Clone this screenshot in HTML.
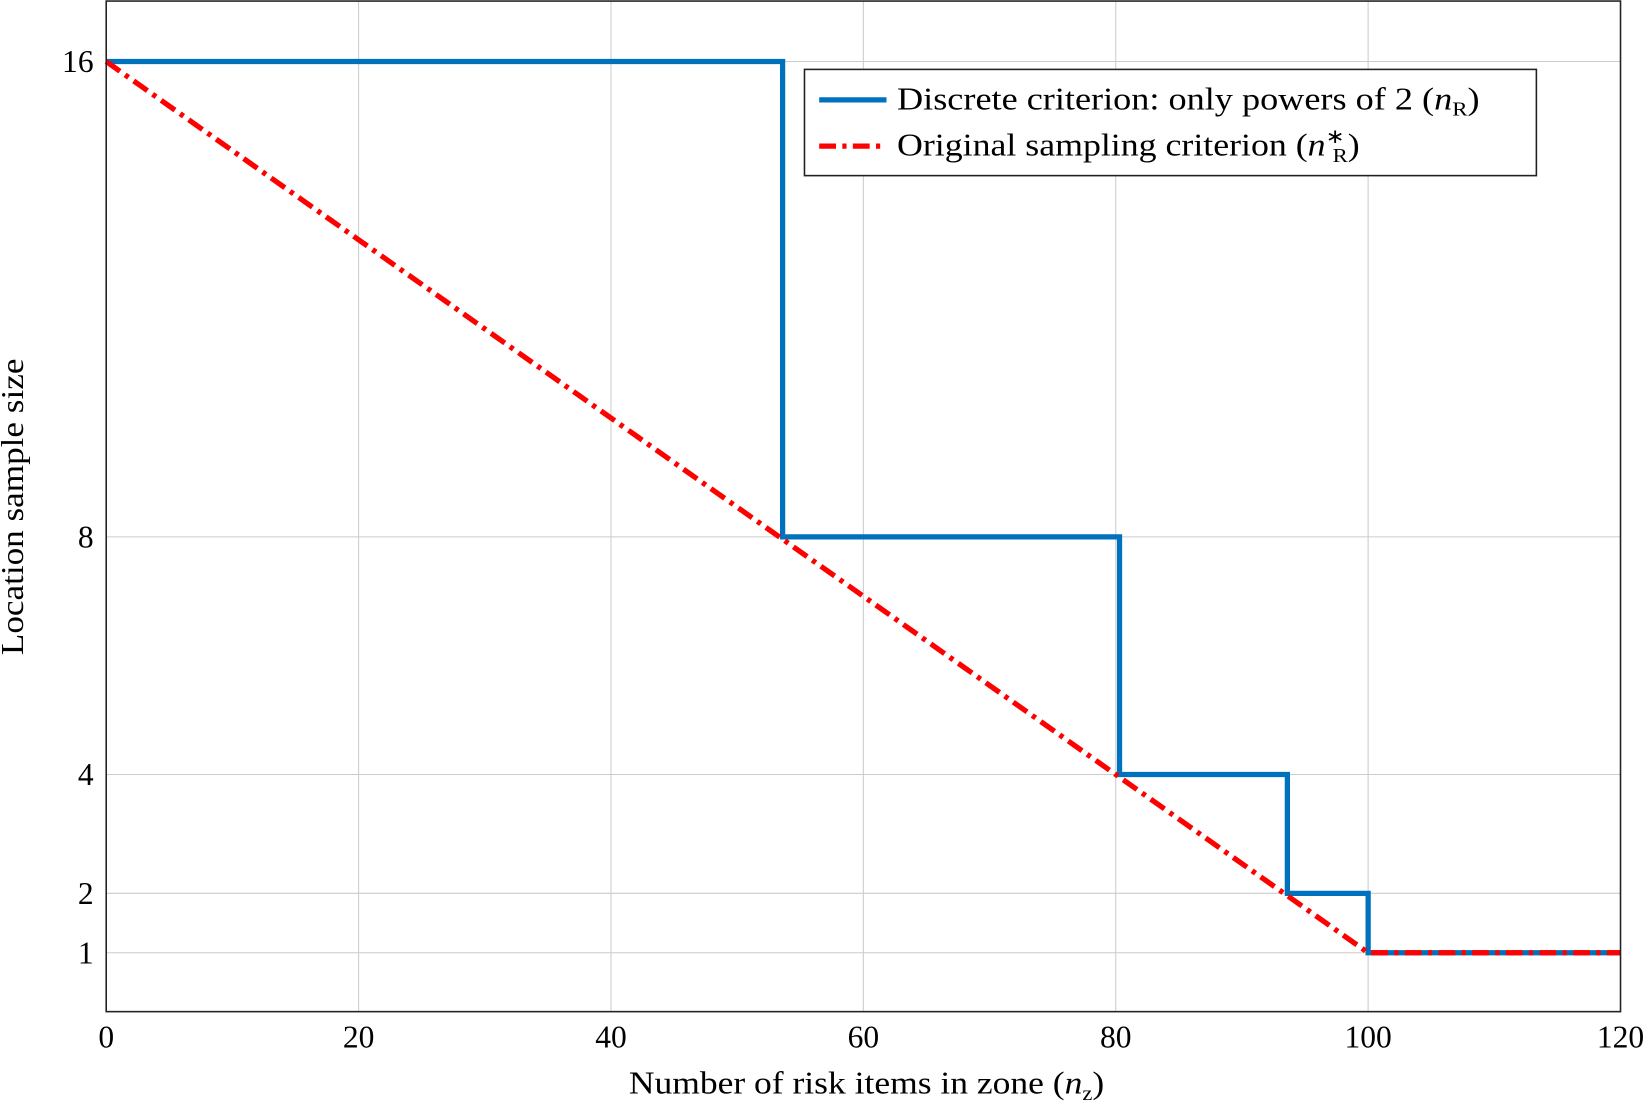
<!DOCTYPE html>
<html><head><meta charset="utf-8"><style>
body{margin:0;background:#fff}
text{font-family:"Liberation Serif",serif;fill:#000}
</style></head><body>
<svg width="1649" height="1103" xmlns="http://www.w3.org/2000/svg">
<g transform="scale(1.0516)">
<g id="grid"></g>
<g id="axes"></g>
<g id="series"></g>
<rect x="101" y="1" width="1440" height="961" fill="none" stroke="#222" stroke-width="1.5"/>
<text x="598" y="1040" font-size="30" textLength="452" lengthAdjust="spacingAndGlyphs">Number of risk items in zone (<tspan font-style="italic">n</tspan><tspan font-size="19" dy="6">z</tspan><tspan dy="-6">)</tspan></text>
<text transform="translate(22,482) rotate(-90)" font-size="30" text-anchor="middle" textLength="282" lengthAdjust="spacingAndGlyphs">Location sample size</text>
<g>
<rect x="765" y="66" width="696" height="101" fill="#fff" stroke="#222" stroke-width="1.5"/>
<line x1="779" y1="95" x2="843" y2="95" stroke="#0072bd" stroke-width="5"/>
<text x="853" y="104" font-size="30" textLength="554" lengthAdjust="spacingAndGlyphs">Discrete criterion: only powers of 2 (<tspan font-style="italic">n</tspan><tspan font-size="19" dy="6">R</tspan><tspan dy="-6">)</tspan></text>
<line x1="779" y1="139" x2="843" y2="139" stroke="#ff0000" stroke-width="5" stroke-dasharray="16,6,4,6"/>
<text x="853" y="148" font-size="30" textLength="440" lengthAdjust="spacingAndGlyphs">Original sampling criterion (<tspan font-style="italic">n</tspan><tspan font-size="19" dy="-12">∗</tspan><tspan font-size="19" dx="-10" dy="18">R</tspan><tspan dy="-6">)</tspan></text>
</g>
</g>
</svg>
<script>
const xTicks=[0,20,40,60,80,100,120];
const yTicks=[1,2,4,8,16];
const discreteX=[0,53.6,53.6,80.3,80.3,93.6,93.6,100,100,120];
const discreteY=[16,16,8,8,4,4,2,2,1,1];
const originalX=[0,100,120];
const originalY=[16,1,1];
const NS="http://www.w3.org/2000/svg";
const sx=v=>101+v*12;
const sy=v=>962.5-v*56.5;
function mk(tag,attrs,parent){const e=document.createElementNS(NS,tag);for(const k in attrs)e.setAttribute(k,attrs[k]);parent.appendChild(e);return e;}
const grid=document.getElementById('grid'),axes=document.getElementById('axes'),series=document.getElementById('series');
xTicks.forEach(t=>{
 const l=mk('line',{x1:sx(t),x2:sx(t),y1:1,y2:962,stroke:'#cccccc','stroke-width':1},grid);
 
 
 const tx=mk('text',{x:sx(t),y:996,'font-size':30,'text-anchor':'middle'},axes);
 tx.textContent=t;
 
 
});
yTicks.forEach(t=>{
 const l=mk('line',{x1:101,x2:1541,y1:sy(t),y2:sy(t),stroke:'#cccccc','stroke-width':1},grid);
 
 
 const tx=mk('text',{x:89,y:sy(t)+10,'font-size':30,'text-anchor':'end'},axes);
 tx.textContent=t;
 
 
});
const pts=(X,Y)=>X.map((x,i)=>sx(x)+','+sy(Y[i])).join(' ');
const d=mk('polyline',{points:pts(discreteX,discreteY),fill:'none',stroke:'#0072bd','stroke-width':5},series);


const o=mk('polyline',{points:pts(originalX,originalY),fill:'none',stroke:'#ff0000','stroke-width':5,'stroke-dasharray':'16,6,4,6'},series);


</script>
</body></html>
